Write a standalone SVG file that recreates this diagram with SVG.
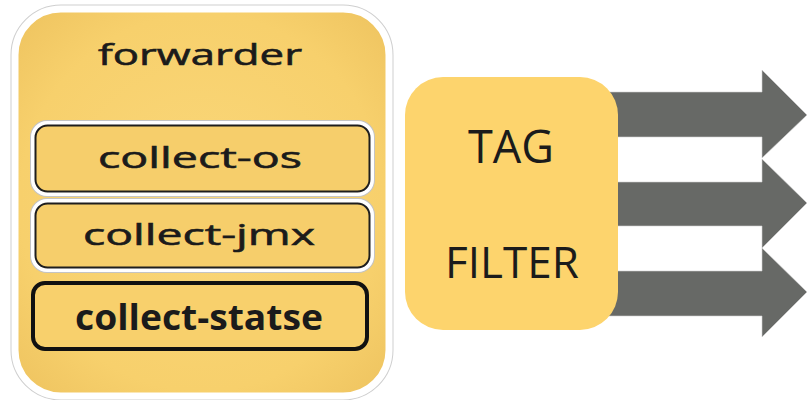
<svg xmlns="http://www.w3.org/2000/svg" width="807" height="400" viewBox="0 0 807 400">
  <defs>
    <radialGradient id="gold" cx="50%" cy="50%" r="65%">
      <stop offset="0" stop-color="#FAD77A"/>
      <stop offset="0.75" stop-color="#F7D06C"/>
      <stop offset="1" stop-color="#F0C662"/>
    </radialGradient>
    <style>
      .lbl { font-family: "Open Sans", "Liberation Sans", sans-serif; fill: #1b1b1b; text-anchor: middle; }
      .thick { stroke: #1b1b1b; stroke-width: 0.6; }
      .sub-halo { fill: none; stroke: #c4c4c4; stroke-width: 8; }
      .sub-white { fill: #F6CE6B; stroke: #ffffff; stroke-width: 6; }
      .sub-line { fill: #F6CE6B; stroke: #1e1e1e; stroke-width: 2; }
      .arrow { fill: #676966; stroke: #d0d0d0; stroke-width: 0.6; }
    </style>
  </defs>
  <rect width="807" height="400" fill="#ffffff"/>

  <g id="connectors">
    <polygon class="arrow" points="600,92 762,92 762,70 807,115 762,158 762,137 600,137"/>
    <polygon class="arrow" points="600,182 762,182 762,159 807,203 762,248 762,226 600,226"/>
    <polygon class="arrow" points="600,271 762,271 762,248 807,292 762,337 762,316 600,316"/>
  </g>

  <g id="forwarder">
    <rect x="15" y="9" width="374" height="387" rx="46" fill="none" stroke="#cfcfcf" stroke-width="9"/>
    <rect x="15" y="9" width="374" height="387" rx="46" fill="url(#gold)" stroke="#ffffff" stroke-width="7"/>
    <text class="lbl thick" x="200" y="65" font-size="29" textLength="204" lengthAdjust="spacingAndGlyphs">forwarder</text>
  </g>

  <g id="collect-os">
    <rect class="sub-halo" x="34" y="124" width="337" height="69" rx="13"/>
    <rect class="sub-white" x="34" y="124" width="337" height="69" rx="13"/>
    <rect class="sub-line" x="35.5" y="125.5" width="334" height="66" rx="12"/>
    <text class="lbl thick" x="200" y="168" font-size="29" textLength="204" lengthAdjust="spacingAndGlyphs">collect-os</text>
  </g>

  <g id="collect-jmx">
    <rect class="sub-halo" x="34" y="202" width="337" height="67" rx="13"/>
    <rect class="sub-white" x="34" y="202" width="337" height="67" rx="13"/>
    <rect class="sub-line" x="35.5" y="203.5" width="334" height="64" rx="12"/>
    <text class="lbl thick" x="199" y="245" font-size="30" textLength="232" lengthAdjust="spacingAndGlyphs">collect-jmx</text>
  </g>

  <g id="collect-statse">
    <rect x="33" y="283" width="334" height="66" rx="12" fill="#F8D06C" stroke="#111111" stroke-width="4"/>
    <text class="lbl" x="199" y="330" font-size="36" font-weight="bold" textLength="248" lengthAdjust="spacingAndGlyphs">collect-statse</text>
  </g>

  <g id="tag-filter">
    <rect x="405" y="77" width="213" height="253" rx="38" fill="#FDD46D"/>
    <text class="lbl" x="511" y="163" font-size="45" fill="#111">TAG</text>
    <text class="lbl" x="512" y="278" font-size="44" fill="#111">FILTER</text>
  </g>
</svg>
